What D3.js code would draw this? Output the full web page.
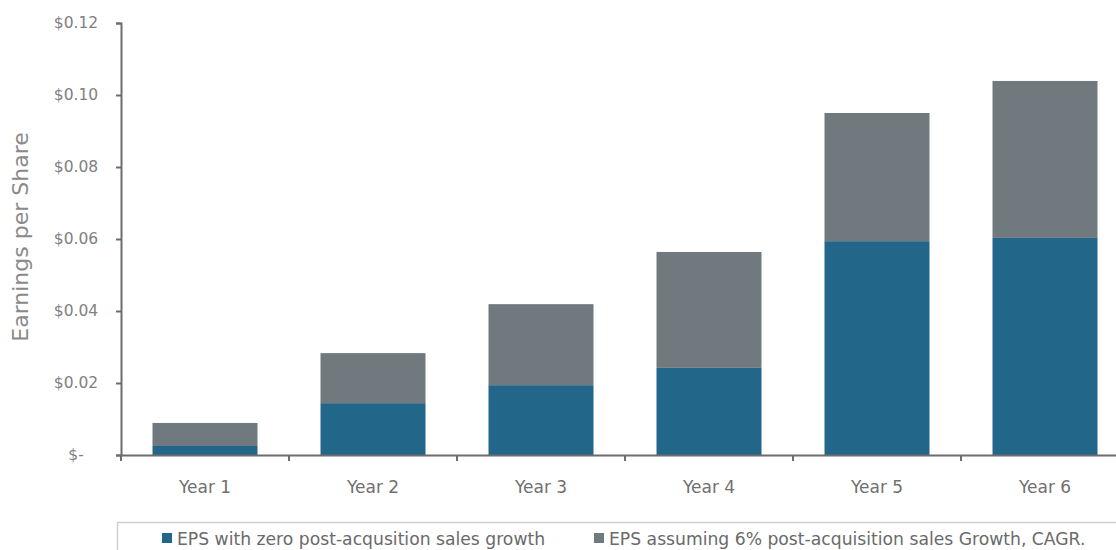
<!DOCTYPE html>
<meta charset="utf-8">
<script src="https://d3js.org/d3.v7.min.js"></script>
<style>
  body { margin: 0; background: #fff; }
  text { font-family: "DejaVu Sans", sans-serif; }
</style>
<div id="chart"></div>
<script>

// chart values
var years = ["Year 1", "Year 2", "Year 3", "Year 4", "Year 5", "Year 6"];
var epsZeroGrowth = [0.0025, 0.0144, 0.0194, 0.0242, 0.0594, 0.0603];
var epsExtraAt6pct = [0.0064, 0.0139, 0.0225, 0.0322, 0.0356, 0.0436];   // stacked on top of zero-growth EPS
var yTicks = [0, 0.02, 0.04, 0.06, 0.08, 0.10, 0.12];
var seriesNames = ["EPS with zero post-acqusition sales growth", "EPS assuming 6% post-acquisition sales Growth, CAGR."];
var seriesColors = ["#22668a", "#6f797e"];

var width = 1116, height = 550;

var svg = d3.select("#chart")
  .append("svg")
    .attr("width", width)
    .attr("height", height);

var x = d3.scaleBand()
  .domain(years)
  .range([121, 1129])
  .paddingInner(0.375)
  .paddingOuter(0.1875);

var y = d3.scaleLinear()
  .domain([0, 0.12])
  .range([455, 23]);

// stack the two series
var rows = years.map(function(d, i) {
  return { year: d, zero: epsZeroGrowth[i], extra: epsExtraAt6pct[i] };
});
var stacked = d3.stack().keys(["zero", "extra"])(rows);

svg.selectAll("g.layer")
  .data(stacked)
  .enter()
  .append("g")
    .attr("class", "layer")
    .attr("fill", function(d, i) { return seriesColors[i]; })
  .selectAll("rect")
  .data(function(d) { return d; })
  .enter()
  .append("rect")
    .attr("x", function(d) { return x(d.data.year); })
    .attr("width", x.bandwidth())
    .attr("y", function(d) { return y(d[1]); })
    .attr("height", function(d) { return y(d[0]) - y(d[1]); });

// y axis
var fmt = function(d) { return d === 0 ? "$-" : "$" + d3.format(".2f")(d); };
var yAxis = svg.append("g")
  .attr("transform", "translate(121,0)")
  .call(d3.axisLeft(y).tickValues(yTicks).tickFormat(fmt).tickSize(5).tickPadding(0));
yAxis.select(".domain").attr("stroke", "#6d6d6d").attr("stroke-width", 2);
yAxis.selectAll(".tick line").attr("stroke", "#6d6d6d").attr("stroke-width", 2);
yAxis.selectAll(".tick text")
  .attr("fill", "#808080")
  .style("font-size", "15.5px")
  .attr("text-anchor", "middle")
  .attr("x", -45);

// x axis
var xAxis = svg.append("g")
  .attr("transform", "translate(0,455)")
  .call(d3.axisBottom(x).tickSize(0).tickPadding(0));
xAxis.select(".domain").attr("stroke", "#6d6d6d").attr("stroke-width", 2);
xAxis.selectAll(".tick text")
  .attr("fill", "#707070")
  .style("font-size", "17px")
  .attr("dy", null)
  .attr("y", 38);

// small tick marks between categories
var edges = years.map(function(d) { return x(d) - (x.step() - x.bandwidth()) / 2; });
edges[0] = 121;
svg.append("g")
  .selectAll("line")
  .data(edges)
  .enter()
  .append("line")
    .attr("x1", function(d) { return d; })
    .attr("x2", function(d) { return d; })
    .attr("y1", 455)
    .attr("y2", 461)
    .attr("stroke", "#6d6d6d")
    .attr("stroke-width", 2);

// y axis title
svg.append("text")
  .attr("transform", "translate(28,237) rotate(-90)")
  .attr("text-anchor", "middle")
  .attr("fill", "#8a8a8a")
  .style("font-size", "22px")
  .text("Earnings per Share");

// legend
svg.append("rect")
  .attr("x", 117.5)
  .attr("y", 522.5)
  .attr("width", 1010)
  .attr("height", 40)
  .attr("fill", "none")
  .attr("stroke", "#cfcfcf")
  .attr("stroke-width", 1.5);

var legendX = [162, 594];
var legend = svg.selectAll("g.legend")
  .data(seriesNames)
  .enter()
  .append("g")
    .attr("class", "legend")
    .attr("transform", function(d, i) { return "translate(" + legendX[i] + ",0)"; });
legend.append("rect")
  .attr("x", 0)
  .attr("y", 533)
  .attr("width", 10)
  .attr("height", 10)
  .attr("fill", function(d, i) { return seriesColors[i]; });
legend.append("text")
  .attr("x", 15)
  .attr("y", 545)
  .attr("fill", "#6a6a6a")
  .style("font-size", "17.2px")
  .text(function(d) { return d; });

</script>
